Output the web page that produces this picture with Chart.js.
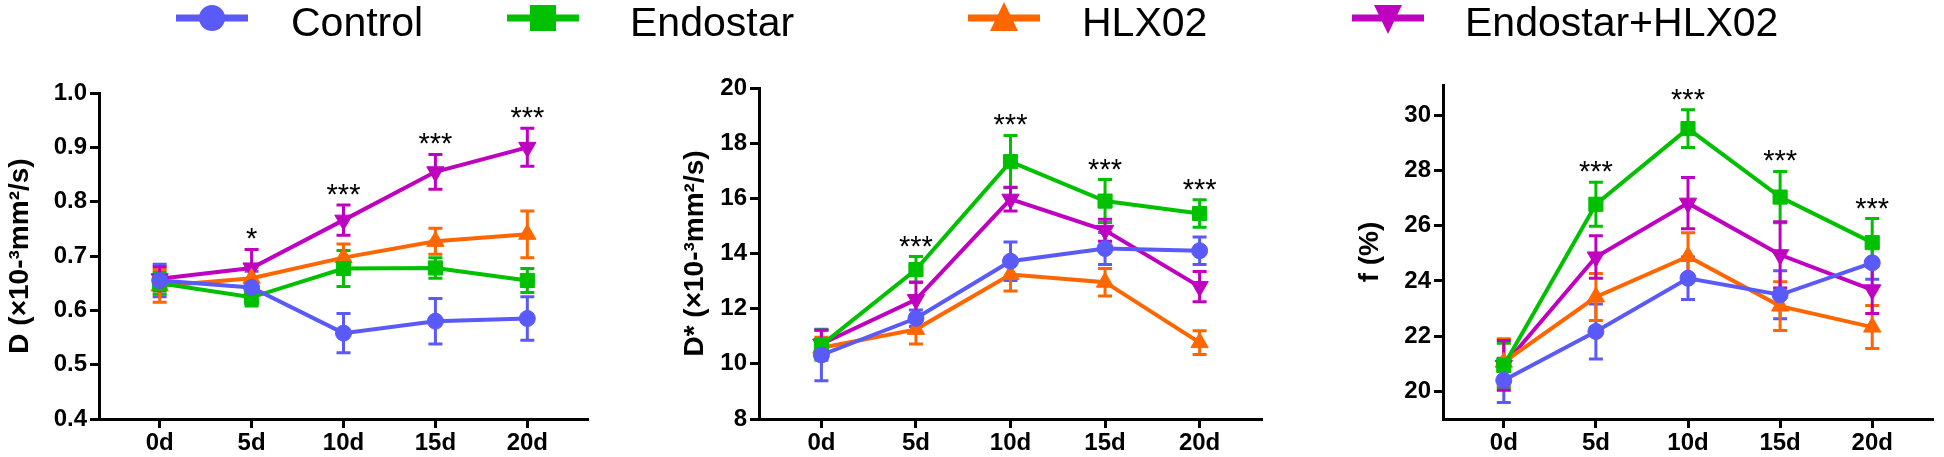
<!DOCTYPE html>
<html lang="en">
<head>
<meta charset="UTF-8" />
<title>IVIM parameters</title>
<style>
  body { margin: 0; width: 1944px; height: 457px; background: #fff; position: relative; overflow: hidden;
         font-family: "Liberation Sans", Arial, sans-serif; }
  .panel { position: absolute; top: 0; }
  /* Legend across the top */
  .legend-mark { position: absolute; top: 0; width: 76px; height: 36px; z-index: 2; }
  .legend-text { position: absolute; top: 2px; font-size: 41px; line-height: 41px; color: #000; z-index: 2; white-space: nowrap; }
</style>
<script src="https://cdn.jsdelivr.net/npm/chart.js"></script>
</head>
<body>
<div id="legend"></div>
<canvas id="chartD" class="panel" width="600" height="457" style="left:0px"></canvas>
<canvas id="chartDstar" class="panel" width="640" height="457" style="left:640px"></canvas>
<canvas id="chartF" class="panel" width="644" height="457" style="left:1300px"></canvas>
<script>
const days = [0, 5, 10, 15, 20];
const dayLabels = ['0d', '5d', '10d', '15d', '20d'];
const seriesNames = ['Control', 'Endostar', 'HLX02', 'Endostar+HLX02'];
const seriesColors = ['#5a5af8', '#00c000', '#ff6600', '#c000c0'];
const seriesShapes = ['circle', 'rect', 'triangle', 'triangleDown'];

// D (x10-3 mm2/s)
const dControl = [0.655, 0.642, 0.558, 0.580, 0.585];
const dControlErr = [0.030, 0.030, 0.036, 0.042, 0.040];
const dEndostar = [0.650, 0.624, 0.677, 0.678, 0.655];
const dEndostarErr = [0.020, 0.016, 0.033, 0.019, 0.022];
const dHLX02 = [0.645, 0.659, 0.697, 0.727, 0.740];
const dHLX02Err = [0.030, 0.020, 0.025, 0.024, 0.043];
const dCombo = [0.658, 0.678, 0.766, 0.855, 0.900];
const dComboErr = [0.022, 0.034, 0.028, 0.032, 0.035];
const dTicks = [0.4, 0.5, 0.6, 0.7, 0.8, 0.9, 1.0];
const dStars = ['', '*', '***', '***', '***'];

// D* (x10-3 mm2/s)
const dsControl = [10.32, 11.65, 13.72, 14.18, 14.10];
const dsControlErr = [0.93, 0.30, 0.70, 0.58, 0.50];
const dsEndostar = [10.68, 13.42, 17.33, 15.90, 15.45];
const dsEndostarErr = [0.55, 0.47, 0.95, 0.78, 0.50];
const dsHLX02 = [10.58, 11.25, 13.24, 12.96, 10.77];
const dsHLX02Err = [0.38, 0.53, 0.60, 0.50, 0.43];
const dsCombo = [10.72, 12.33, 15.97, 14.84, 12.80];
const dsComboErr = [0.50, 0.64, 0.43, 0.40, 0.55];
const dsTicks = [8, 10, 12, 14, 16, 18, 20];
const dsStars = ['', '***', '***', '***', '***'];

// f (%)
const fControl = [20.40, 22.17, 24.10, 23.50, 24.66];
const fControlErr = [0.80, 1.00, 0.77, 0.87, 0.60];
const fEndostar = [20.94, 26.78, 29.52, 27.04, 25.39];
const fEndostarErr = [0.80, 0.80, 0.68, 0.93, 0.87];
const fHLX02 = [21.06, 23.42, 24.89, 23.09, 22.33];
const fHLX02Err = [0.85, 0.85, 0.86, 0.88, 0.78];
const fCombo = [20.94, 24.87, 26.82, 24.95, 23.68];
const fComboErr = [0.90, 0.77, 0.93, 1.20, 0.86];
const fTicks = [20, 22, 24, 26, 28, 30];
const fStars = ['', '***', '***', '***', '***'];

const FONT = '"Liberation Sans", Arial, sans-serif';

// legend (HTML, markers drawn as svg)
const legendX = [212, 543, 1004, 1388];
const legendTextX = [291, 630, 1082, 1465];
function markerSvg(shape, color) {
  let m = '';
  if (shape === 'circle') m = `<circle cx="38" cy="18" r="13" fill="${color}"/>`;
  if (shape === 'rect') m = `<rect x="25" y="5" width="26" height="26" fill="${color}"/>`;
  if (shape === 'triangle') m = `<polygon points="38,2 52,31 24,31" fill="${color}"/>`;
  if (shape === 'triangleDown') m = `<polygon points="24,5 52,5 38,34" fill="${color}"/>`;
  return `<svg width="76" height="36"><line x1="2" y1="18" x2="74" y2="18" stroke="${color}" stroke-width="7"/>${m}</svg>`;
}
const legend = document.getElementById('legend');
seriesNames.forEach((name, i) => {
  legend.insertAdjacentHTML('beforeend',
    `<div class="legend-mark" style="left:${legendX[i] - 38}px">${markerSvg(seriesShapes[i], seriesColors[i])}</div>` +
    `<div class="legend-text" style="left:${legendTextX[i]}px">${name}</div>`);
});

// error bars and significance stars, positioned through the chart scales
const errorBars = {
  id: 'errorBars',
  beforeDatasetsDraw(chart) {
    const ctx = chart.ctx, yScale = chart.scales.y;
    chart.data.datasets.forEach((ds, i) => {
      const meta = chart.getDatasetMeta(i);
      ctx.save();
      ctx.strokeStyle = ds.borderColor;
      ctx.lineWidth = 3;
      meta.data.forEach((pt, j) => {
        const v = ds.data[j].y, e = ds.err[j];
        const top = yScale.getPixelForValue(v + e), bot = yScale.getPixelForValue(v - e);
        ctx.beginPath();
        ctx.moveTo(pt.x, top); ctx.lineTo(pt.x, bot);
        ctx.moveTo(pt.x - 7, top); ctx.lineTo(pt.x + 7, top);
        ctx.moveTo(pt.x - 7, bot); ctx.lineTo(pt.x + 7, bot);
        ctx.stroke();
      });
      ctx.restore();
    });
  },
  afterDatasetsDraw(chart) {
    const stars = chart.options.plugins.errorBars.stars;
    const ctx = chart.ctx, xScale = chart.scales.x, yScale = chart.scales.y;
    ctx.save();
    ctx.fillStyle = '#000';
    ctx.font = '29px ' + FONT;
    ctx.textAlign = 'center';
    ctx.textBaseline = 'alphabetic';
    days.forEach((d, j) => {
      if (!stars[j]) return;
      let hi = -Infinity;
      chart.data.datasets.forEach(ds => { hi = Math.max(hi, ds.data[j].y + ds.err[j]); });
      ctx.fillText(stars[j], xScale.getPixelForValue(d), yScale.getPixelForValue(hi) - 1);
    });
    ctx.restore();
  }
};

function makePanel(id, title, series, errs, ticks, yMin, yMax, decimals, stars, yWidth, padTop, padRight, titlePad) {
  const datasets = series.map((vals, i) => ({
    label: seriesNames[i],
    data: vals.map((v, j) => ({ x: days[j], y: v })),
    err: errs[i],
    borderColor: seriesColors[i],
    backgroundColor: seriesColors[i],
    pointBackgroundColor: seriesColors[i],
    pointBorderColor: seriesColors[i],
    pointBorderWidth: 1,
    borderWidth: 4,
    pointStyle: seriesShapes[i] === 'triangleDown' ? 'triangle' : seriesShapes[i],
    rotation: seriesShapes[i] === 'triangleDown' ? 180 : 0,
    pointRadius: seriesShapes[i] === 'circle' ? 8 : 10,
    tension: 0
  }));
  return new Chart(document.getElementById(id), {
    type: 'line',
    data: { datasets },
    plugins: [errorBars],
    options: {
      responsive: false,
      animation: false,
      layout: { padding: { top: padTop, right: padRight, left: 0, bottom: 0 } },
      plugins: { legend: { display: false }, tooltip: { enabled: false }, errorBars: { stars } },
      scales: {
        x: {
          type: 'linear', min: -3.3, max: 23.3,
          border: { color: '#000', width: 3 },
          grid: { drawOnChartArea: false, tickLength: 9, tickWidth: 3, tickColor: '#000' },
          ticks: {
            color: '#000', padding: 1,
            font: { family: FONT, size: 24, weight: 'bold' },
            callback: v => dayLabels[days.indexOf(v)] ?? ''
          },
          afterBuildTicks: s => { s.ticks = days.map(v => ({ value: v })); },
          afterFit: s => { s.height = 38; }
        },
        y: {
          min: yMin, max: yMax,
          border: { color: '#000', width: 3 },
          grid: { drawOnChartArea: false, tickLength: 9, tickWidth: 3, tickColor: '#000' },
          ticks: {
            color: '#000', padding: 3,
            font: { family: FONT, size: 24, weight: 'bold' },
            callback: v => v.toFixed(decimals)
          },
          afterBuildTicks: s => { s.ticks = ticks.map(v => ({ value: v })); },
          title: {
            display: true, text: title, color: '#000',
            font: { family: FONT, size: 28, weight: 'bold' },
            padding: { top: titlePad, bottom: 0 }
          },
          afterFit: s => { s.width = yWidth; }
        }
      }
    }
  });
}

makePanel('chartD', 'D (×10-³mm²/s)',
  [dControl, dEndostar, dHLX02, dCombo], [dControlErr, dEndostarErr, dHLX02Err, dComboErr],
  dTicks, 0.4, 1.0, 1, dStars, 99, 93, 12, 3);
makePanel('chartDstar', 'D* (×10-³mm²/s)',
  [dsControl, dsEndostar, dsHLX02, dsCombo], [dsControlErr, dsEndostarErr, dsHLX02Err, dsComboErr],
  dsTicks, 8, 20, 0, dsStars, 119, 88, 18, 38);
makePanel('chartF', 'f (%)',
  [fControl, fEndostar, fHLX02, fCombo], [fControlErr, fEndostarErr, fHLX02Err, fComboErr],
  fTicks, 19, 31.1, 0, fStars, 143, 85, 1, 53);
</script>
</body>
</html>
